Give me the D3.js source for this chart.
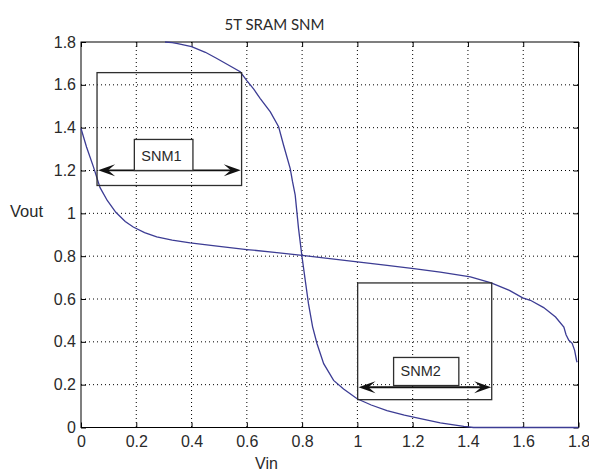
<!DOCTYPE html>
<html>
<head>
<meta charset="utf-8">
<script src="https://cdn.jsdelivr.net/npm/d3@7/dist/d3.min.js"></script>
<style>
    body { margin: 0; background: #fff; }
    svg text { font-family: "Liberation Sans", Arial, Helvetica, sans-serif; fill: #2a2a2a; }
</style>
</head>
<body>
<div id="chart"></div>
<script>
// global variable
var app = app || {};

// curve 1 (steep inverter)
var vinA = [0.304, 0.33, 0.35, 0.40, 0.45, 0.49, 0.53, 0.576, 0.60, 0.625, 0.648, 0.685, 0.715, 0.733,
    0.757, 0.765, 0.775, 0.787, 0.799, 0.81, 0.823, 0.838, 0.854, 0.878, 0.914, 0.95, 0.999, 1.05,
    1.107, 1.17, 1.228, 1.30, 1.385, 1.42, 1.8];
var voutA = [1.8, 1.797, 1.792, 1.778, 1.752, 1.724, 1.695, 1.661, 1.62, 1.58, 1.537, 1.474, 1.404, 1.318,
    1.209, 1.15, 1.085, 0.93, 0.804, 0.70, 0.578, 0.47, 0.391, 0.298, 0.220, 0.18, 0.134, 0.105,
    0.079, 0.058, 0.041, 0.022, 0.005, 0.0, 0.0];

// curve 2 (flat inverter)
var vinB = [0, 0.02, 0.045, 0.069, 0.095, 0.126, 0.16, 0.189, 0.23, 0.274, 0.33, 0.395, 0.5, 0.6, 0.7,
    0.8, 0.9, 1.0, 1.1, 1.204, 1.3, 1.409, 1.484, 1.55, 1.598, 1.626, 1.674, 1.717, 1.747, 1.755,
    1.765, 1.777, 1.786, 1.793, 1.795];
var voutB = [1.396, 1.31, 1.217, 1.12, 1.06, 1.005, 0.962, 0.936, 0.91, 0.89, 0.875, 0.862, 0.846, 0.831, 0.818,
    0.804, 0.789, 0.773, 0.758, 0.742, 0.725, 0.703, 0.675, 0.64, 0.605, 0.594, 0.56, 0.516, 0.469, 0.433,
    0.407, 0.393, 0.36, 0.313, 0.305];

var xTicks = [0, 0.2, 0.4, 0.6, 0.8, 1, 1.2, 1.4, 1.6, 1.8];
var yTicks = [0, 0.2, 0.4, 0.6, 0.8, 1, 1.2, 1.4, 1.6, 1.8];

// SNM squares: [x0, x1, y0, y1]
var snmNames = ["SNM1", "SNM2"];
var snmBoxes = [[0.058, 0.581, 1.13, 1.657], [1.001, 1.486, 0.13, 0.675]];
// arrows: [x0, x1, y]
var snmArrows = [[0.062, 0.578, 1.201], [1.004, 1.484, 0.188]];
// label boxes: [x0, x1, y0, y1]
var snmLabels = [[0.193, 0.405, 1.2, 1.345], [1.131, 1.367, 0.196, 0.327]];

app.SnmModule = (function () {
    'use strict';

    var init = function (baseElement) {
        var config = configure(d3.select(baseElement));
        structure(config);
        grid(config);
        curves(config);
        boxes(config);
        labels(config);
        return config;
    };

    var configure = function (base) {
        var m = { left: 81, top: 42, width: 497.5, height: 385.5 };
        return {
            base: base,
            m: m,
            x: d3.scaleLinear().domain([0, 1.8]).range([0, m.width]),
            y: d3.scaleLinear().domain([0, 1.8]).range([m.height, 0]),
            colors: {
                curve: "#3c3c94", // muted matlab blue
                box: "#2e2e2e"
            }
        };
    };

    var structure = function (config) {
        var svg = config.base.append("svg")
            .attr("width", 589)
            .attr("height", 471);
        config.svg = svg;
        config.group = svg.append("g")
            .attr("transform", "translate(" + config.m.left + "," + config.m.top + ")");
    };

    var grid = function (config) {
        var g = config.group, x = config.x, y = config.y, w = config.m.width, h = config.m.height;

        // dotted grid
        g.append("g").selectAll("line").data(xTicks.slice(1, -1)).enter().append("line")
            .attr("x1", x).attr("x2", x).attr("y1", 0).attr("y2", h)
            .attr("stroke", "#000").attr("stroke-dasharray", "1,3");
        g.append("g").selectAll("line").data(yTicks.slice(1, -1)).enter().append("line")
            .attr("y1", y).attr("y2", y).attr("x1", 0).attr("x2", w)
            .attr("stroke", "#000").attr("stroke-dasharray", "1,3");

        // axes with inner ticks, mirrored on top and right
        var fmt = function (d) { return d3.format("")(d); };
        var bottom = g.append("g").attr("transform", "translate(0," + h + ")")
            .call(d3.axisBottom(x).tickValues(xTicks).tickSize(-5).tickPadding(8).tickFormat(fmt));
        var left = g.append("g")
            .call(d3.axisLeft(y).tickValues(yTicks).tickSize(-5).tickPadding(5).tickFormat(fmt));
        g.append("g").call(d3.axisTop(x).tickValues(xTicks).tickSize(-5).tickFormat(""));
        g.append("g").attr("transform", "translate(" + w + ",0)")
            .call(d3.axisRight(y).tickValues(yTicks).tickSize(-5).tickFormat(""));

        g.selectAll(".domain").remove();
        g.selectAll(".tick line").attr("stroke", "#000");
        bottom.attr("font-size", null).attr("font-family", null);
        left.attr("font-size", null).attr("font-family", null);
        bottom.selectAll("text").style("font-size", "16px");
        left.selectAll("text").style("font-size", "16px");

        // frame
        g.append("rect")
            .attr("width", w).attr("height", h)
            .attr("fill", "none").attr("stroke", "#000").attr("stroke-width", 1);
    };

    var curves = function (config) {
        var line = d3.line()
            .x(function (d) { return config.x(d[0]); })
            .y(function (d) { return config.y(d[1]); });
        var a = d3.zip(vinA, voutA), b = d3.zip(vinB, voutB);

        config.group.selectAll("path.curve").data([a, b]).enter()
            .append("path")
            .attr("class", "curve")
            .attr("d", line)
            .attr("fill", "none")
            .attr("stroke", config.colors.curve)
            .attr("stroke-width", 1.3);
    };

    var arrowHead = function (tipX, tipY, dir) {
        // barbed arrowhead, dir = 1 points right, -1 points left
        var len = 17, half = 6, notch = 10;
        return "M" + tipX + "," + tipY +
            "L" + (tipX - dir * len) + "," + (tipY - half) +
            "L" + (tipX - dir * notch) + "," + tipY +
            "L" + (tipX - dir * len) + "," + (tipY + half) + "Z";
    };

    var boxes = function (config) {
        var g = config.group, x = config.x, y = config.y;

        g.append("g").selectAll("rect").data(snmBoxes).enter().append("rect")
            .attr("x", function (d) { return x(d[0]); })
            .attr("y", function (d) { return y(d[3]); })
            .attr("width", function (d) { return x(d[1]) - x(d[0]); })
            .attr("height", function (d) { return y(d[2]) - y(d[3]); })
            .attr("fill", "none")
            .attr("stroke", config.colors.box)
            .attr("stroke-width", 1.3);

        var arrows = g.append("g").selectAll("g").data(snmArrows).enter().append("g");
        arrows.append("line")
            .attr("x1", function (d) { return x(d[0]) + 6; })
            .attr("x2", function (d) { return x(d[1]) - 6; })
            .attr("y1", function (d) { return y(d[2]); })
            .attr("y2", function (d) { return y(d[2]); })
            .attr("stroke", "#111")
            .attr("stroke-width", 1.8);
        arrows.append("path")
            .attr("d", function (d) { return arrowHead(x(d[0]), y(d[2]), -1); })
            .attr("fill", "#111");
        arrows.append("path")
            .attr("d", function (d) { return arrowHead(x(d[1]), y(d[2]), 1); })
            .attr("fill", "#111");
    };

    var labels = function (config) {
        var g = config.group, x = config.x, y = config.y;

        var lab = g.append("g").selectAll("g").data(snmLabels).enter().append("g");
        lab.append("rect")
            .attr("x", function (d) { return x(d[0]); })
            .attr("y", function (d) { return y(d[3]); })
            .attr("width", function (d) { return x(d[1]) - x(d[0]); })
            .attr("height", function (d) { return y(d[2]) - y(d[3]); })
            .attr("fill", "#fff")
            .attr("stroke", config.colors.box)
            .attr("stroke-width", 1.3);
        lab.append("text")
            .attr("x", function (d) { return x(d[0]) + 7; })
            .attr("y", function (d) { return y(d[2]) - 9.5; })
            .style("font-size", "14.5px")
            .text(function (d, i) { return snmNames[i]; });

        // title and axis labels
        config.svg.append("text")
            .attr("x", 274.5).attr("y", 30)
            .attr("text-anchor", "middle")
            .style("font-size", "15px")
            .style("font-family", "Lato, 'Open Sans', sans-serif")
            .text("5T SRAM SNM");
        config.svg.append("text")
            .attr("x", 266.5).attr("y", 469)
            .attr("text-anchor", "middle")
            .style("font-size", "16px")
            .text("Vin");
        config.svg.append("text")
            .attr("x", 10).attr("y", 217)
            .style("font-size", "16.5px")
            .text("Vout");
    };

    return {
        init: init
    };

}());

app.SnmModule.init("#chart");
</script>
</body>
</html>
